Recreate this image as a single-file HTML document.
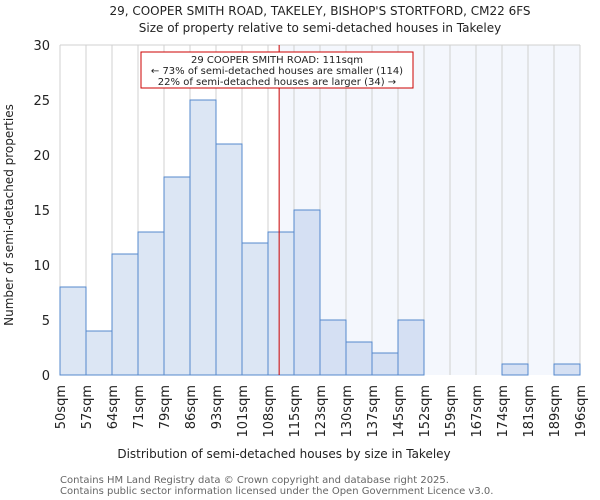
<!DOCTYPE html>
<html><head><meta charset="utf-8"><style>
body{margin:0;background:#fff}
svg{display:block;font-family:"DejaVu Sans","Liberation Sans",sans-serif}
</style></head><body>
<svg id="chart" width="600" height="500">
<text x="320" y="15" font-size="12" text-anchor="middle" fill="#222">29, COOPER SMITH ROAD, TAKELEY, BISHOP'S STORTFORD, CM22 6FS</text>
<text x="320" y="32" font-size="12" text-anchor="middle" fill="#222">Size of property relative to semi-detached houses in Takeley</text>
<g id="plot"></g>
<text x="284" y="458" font-size="12" text-anchor="middle" fill="#222">Distribution of semi-detached houses by size in Takeley</text>
<text transform="translate(13,215) rotate(-90)" font-size="12" text-anchor="middle" fill="#222">Number of semi-detached properties</text>
<text x="60" y="483" font-size="10" fill="#666">Contains HM Land Registry data © Crown copyright and database right 2025.</text>
<text x="60" y="494" font-size="10" fill="#666">Contains public sector information licensed under the Open Government Licence v3.0.</text>
</svg>
<script>
const binLabels=["50sqm","57sqm","64sqm","71sqm","79sqm","86sqm","93sqm","101sqm","108sqm","115sqm","123sqm","130sqm","137sqm","145sqm","152sqm","159sqm","167sqm","174sqm","181sqm","189sqm","196sqm"];
const counts=[8,4,11,13,18,25,21,12,13,15,5,3,2,5,0,0,0,1,0,1];
const yTicks=[0,5,10,15,20,25,30];
const propertyBin=8+3/7;
const NS="http://www.w3.org/2000/svg";
const L=60,R=580,T=45,B=375,yMax=30;
const n=counts.length,bw=(R-L)/n;
const xs=i=>L+i*bw;
const ys=v=>B-(B-T)*v/yMax;
const g=document.getElementById('plot');
function mk(t,a){const e=document.createElementNS(NS,t);for(const k in a)e.setAttribute(k,a[k]);g.appendChild(e);return e;}
const px=xs(propertyBin);
let e=mk('rect',{x:px,y:T,width:R-px,height:B-T,fill:'#f4f7fd'});


for(let i=0;i<=n;i++){e=mk('line',{x1:xs(i),x2:xs(i),y1:T,y2:B,stroke:'#d0d0d0','stroke-width':1});

}
e=mk('line',{x1:L,x2:R,y1:T,y2:T,stroke:'#d0d0d0','stroke-width':1});


yTicks.forEach(v=>{
e=mk('text',{x:L-10,y:ys(v)+5,'font-size':13,'text-anchor':'end',fill:'#222'});e.textContent=v;

});
counts.forEach((c,i)=>{if(c<=0)return;
const right=xs(i)>=px-1;
e=mk('rect',{x:xs(i),y:ys(c),width:bw,height:B-ys(c),fill:right?'#d5e0f3':'#dce6f4',stroke:'#5588cc','stroke-width':1});

});
binLabels.forEach((l,i)=>{e=mk('text',{transform:`translate(${xs(i)+5},385) rotate(-90)`,'font-size':13,'text-anchor':'end',fill:'#222'});e.textContent=l;

});
e=mk('line',{x1:px,x2:px,y1:T,y2:B,stroke:'#cc0000','stroke-width':1});


e=mk('rect',{x:141,y:52,width:272,height:36,fill:'#fff',stroke:'#cc0000','stroke-width':1});


["29 COOPER SMITH ROAD: 111sqm","← 73% of semi-detached houses are smaller (114)","22% of semi-detached houses are larger (34) →"].forEach((t,k)=>{
e=mk('text',{x:277,y:63+k*11,'font-size':10,'text-anchor':'middle',fill:'#222'});e.textContent=t;

});
</script>
</body></html>
